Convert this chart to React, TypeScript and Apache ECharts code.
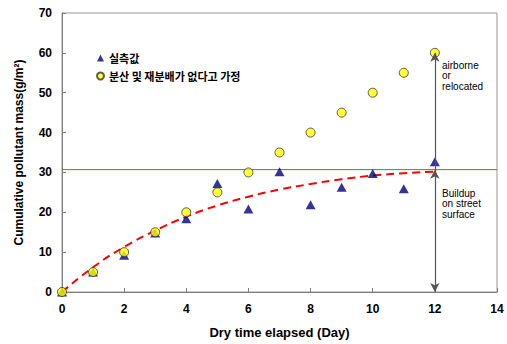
import React, { useEffect, useRef } from "react";
import * as echarts from "echarts";

const days = [0, 1, 2, 3, 4, 5, 6, 7, 8, 9, 10, 11, 12];
const measured = [0, 5, 9.2, 14.8, 18.4, 27.2, 20.8, 30.2, 21.9, 26.3, 29.7, 25.9, 32.7];
const noLoss = [0, 5, 10, 15, 20, 25, 30, 35, 40, 45, 50, 55, 60];
const fitDays = [0, 1, 2, 3, 4, 5, 6, 7, 8, 9, 10, 11, 12];
const fitValues = [0, 6.2, 11.3, 15.4, 18.9, 21.7, 23.9, 25.7, 27.1, 28.3, 29.2, 29.8, 30.2];
const capacity = 30.7;
const capacityRange = [0, 14];
const arrowDay = 12;
const arrowTop = 60;
const xTicks = { min: 0, max: 14, interval: 2 };
const yTicks = { min: 0, max: 70, interval: 10 };
const measuredName = "실측값";
const noLossName = "분산 및 재분배가 없다고 가정";

export default function App() {
  const ref = useRef<HTMLDivElement>(null);
  useEffect(() => {
    if (!ref.current) return;
    const chart = echarts.init(ref.current, undefined, { renderer: "svg" });
    const latin = "'Liberation Sans', Arial, sans-serif";
    const axisCommon = {
      axisLine: { show: true, lineStyle: { color: "#7f7f7f", width: 1 } },
      axisTick: { show: true, inside: true, length: 4, lineStyle: { color: "#7f7f7f" } },
      splitLine: { show: false },
      axisLabel: { color: "#000", fontWeight: "bold", fontSize: 12, fontFamily: latin },
    };
    chart.setOption({
      animation: false,
      backgroundColor: "#fff",
      grid: { left: 62, right: 10, top: 13, bottom: 47, show: true, borderColor: "#999", borderWidth: 1 },
      xAxis: {
        type: "value",
        ...xTicks,
        ...axisCommon,
        axisLabel: { ...axisCommon.axisLabel, margin: 11 },
        name: "Dry time elapsed (Day)",
        nameLocation: "middle",
        nameGap: 34,
        nameTextStyle: { color: "#000", fontWeight: "bold", fontSize: 13, fontFamily: latin, verticalAlign: "top" },
      },
      yAxis: {
        type: "value",
        ...yTicks,
        ...axisCommon,
        axisLabel: { ...axisCommon.axisLabel, margin: 10 },
        name: "Cumulative pollutant mass(g/m²)",
        nameLocation: "middle",
        nameGap: 37,
        nameTextStyle: { color: "#000", fontWeight: "bold", fontSize: 12, fontFamily: latin },
      },
      legend: {
        orient: "vertical",
        left: 91,
        top: 46,
        itemGap: 4,
        itemWidth: 7,
        itemHeight: 7,
        data: [
          { name: measuredName, icon: "triangle" },
          { name: noLossName, icon: "circle" },
        ],
        textStyle: { color: "#000", fontSize: 11, lineHeight: 14, fontWeight: "bold", fontFamily: "'Noto Sans CJK KR', sans-serif" },
      },
      graphic: [
        {
          type: "text",
          left: 442,
          top: 60,
          style: { text: "airborne\nor\nrelocated", fill: "#000", font: "10px 'Liberation Sans', Arial, sans-serif", lineHeight: 10.5 },
        },
        {
          type: "text",
          left: 442,
          top: 188,
          style: { text: "Buildup\non street\nsurface", fill: "#000", font: "10px 'Liberation Sans', Arial, sans-serif", lineHeight: 10.5 },
        },
      ],
      series: [
        {
          type: "line",
          name: "capacity",
          data: capacityRange.map((d) => [d, capacity]),
          showSymbol: false,
          silent: true,
          lineStyle: { color: "#2e9a2e", width: 1 },
          z: 1,
        },
        {
          type: "line",
          name: "fit",
          data: fitDays.map((d, i) => [d, fitValues[i]]),
          smooth: true,
          showSymbol: false,
          silent: true,
          lineStyle: { color: "#ff0000", width: 2, type: [8, 5] },
          z: 2,
        },
        {
          type: "scatter",
          name: measuredName,
          data: days.map((d, i) => [d, measured[i]]),
          symbol: "triangle",
          symbolSize: [10, 9],
          itemStyle: { color: "#00007f" },
          z: 3,
        },
        {
          type: "scatter",
          name: noLossName,
          data: days.map((d, i) => [d, noLoss[i]]),
          symbol: "circle",
          symbolSize: 9,
          itemStyle: { color: "#ffff00", borderColor: "#333", borderWidth: 1 },
          z: 4,
        },
        {
          type: "line",
          name: "arrows",
          data: [],
          silent: true,
          z: 5,
          markLine: {
            silent: true,
            symbol: ["arrow", "arrow"],
            symbolSize: [7, 9],
            label: { show: false },
            lineStyle: { color: "#555", width: 1.2, type: "solid" },
            itemStyle: { color: "#000" },
            data: [
              [{ coord: [arrowDay, 0] }, { coord: [arrowDay, capacity] }],
              [{ coord: [arrowDay, capacity], symbol: "none" }, { coord: [arrowDay, arrowTop] }],
            ],
          },
        },
      ],
    });
    return () => chart.dispose();
  }, []);
  return <div ref={ref} style={{ position: "fixed", left: 0, top: 0, width: 507, height: 344 }} />;
}
